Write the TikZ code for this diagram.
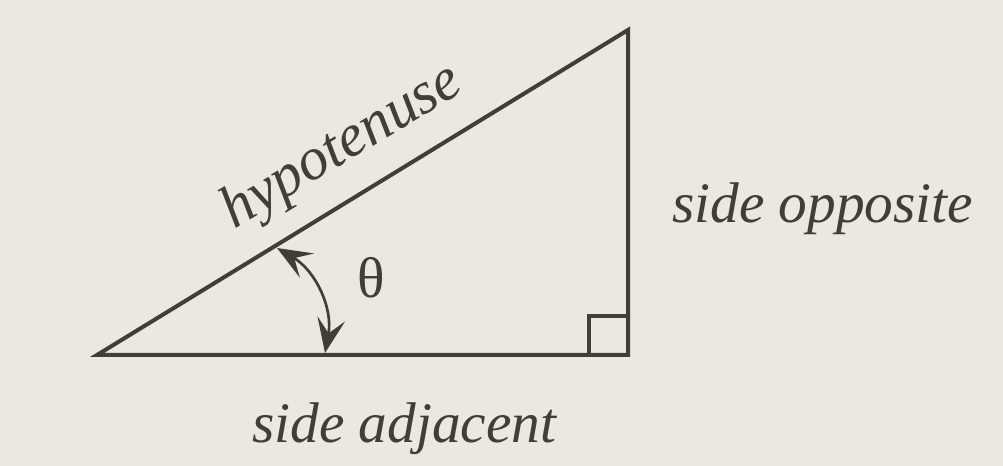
\documentclass[tikz,border=0pt]{standalone}
\usepackage{fontspec}
\setmainfont{Liberation Serif}
\usetikzlibrary{arrows.meta}
\begin{document}
\begin{tikzpicture}[x=0.75pt,y=0.75pt,
  mytext/.style={inner sep=0pt,text=inkgray,font=\fontsize{43}{50}\selectfont\itshape},
  myline/.style={draw=inkgray,line width=3pt,line join=miter},
  >={Stealth[length=26pt,width=21pt,inset=11pt]}]
\definecolor{paper}{HTML}{ECE7E0}
\definecolor{inkgray}{HTML}{413D39}
\fill[paper] (0,0) rectangle (1003,466);
\coordinate (A) at (97,111);
\coordinate (B) at (628,111);
\coordinate (C) at (628,436);
\coordinate (sq) at (589,150);
\coordinate (arcS) at (277,218);
\coordinate (arcE) at (325,113);
\draw[myline] (A) -- (B) -- (C) -- cycle;
\draw[myline,line width=2.6pt] (sq) rectangle (B);
\draw[inkgray,line width=2pt,<->] (arcS) to[bend left=35] (arcE);
\node[mytext,font=\fontsize{45}{50}\selectfont\itshape,anchor=base,rotate=31] (hyp) at (350,306) {hypotenuse};
\node[mytext,anchor=base west] (opp) at (672,243) {side opposite};
\node[mytext,anchor=base west] (adj) at (252,23) {side adjacent};
\node[mytext,font=\fontsize{43}{50}\selectfont\upshape] (theta) at (371,188) {θ};
\end{tikzpicture}
\end{document}
